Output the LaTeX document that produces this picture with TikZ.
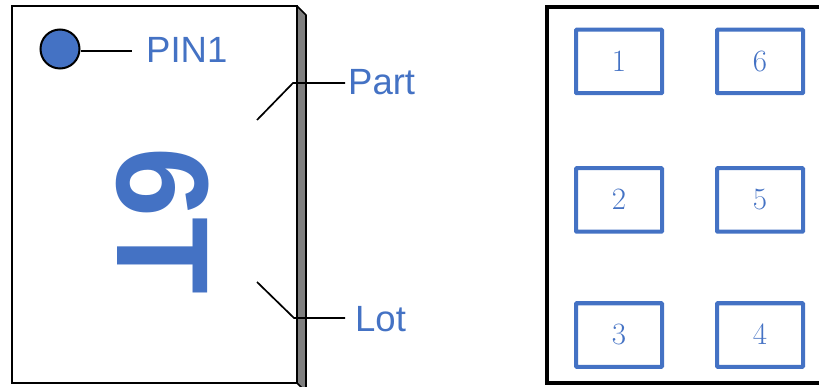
\documentclass[tikz,border=0pt]{standalone}
\usepackage{fontspec}
\setmainfont{Liberation Sans}
\newfontfamily\digitfont{Latin Modern Roman}
\definecolor{pinblue}{HTML}{4472C4}
\definecolor{sidegray}{HTML}{7F7F7F}
\tikzset{
  chipface/.style={draw=black,line width=2pt,fill=white},
  chipside/.style={draw=black,line width=1.6pt,fill=sidegray,line join=round},
  leader/.style={draw=black,line width=1.7pt},
  callout/.style={text=pinblue,font=\fontsize{36.5}{36.5}\selectfont,inner sep=0pt,anchor=base west},
  padbox/.style={draw=pinblue,line width=4pt,fill=white,rounded corners=0.8pt,minimum width=86pt,minimum height=63.5pt,inner sep=0pt,text=pinblue,font=\digitfont\fontsize{31}{31}\selectfont},
}
\begin{document}
\begin{tikzpicture}[x=1pt,y=-1pt]
\useasboundingbox (0,0) rectangle (819,387);
% chip
\path[chipside] (297,6) -- (306,15) -- (306,392) -- (297,383) -- cycle;
\path[chipface] (12,6) rectangle (297,383);
\node[circle,draw=black,line width=2pt,fill=pinblue,minimum size=39pt,inner sep=0pt] (pin) at (60,49) {};
\coordinate (pinend) at (132,51);
\path[leader] (pin.east |- pinend) -- (pinend);
\node[callout] (pinlabel) at (146,63) {PIN1};
\node[callout] (partlabel) at (348,95) {Part};
\node[callout] (lotlabel) at (355,331) {Lot};
\node[text=pinblue,font=\bfseries\fontsize{131}{131}\selectfont,rotate=-90,xscale=0.96,inner sep=0pt] (mark) at (162.5,221) {6T};
\coordinate (parta) at (257,120);
\coordinate (partb) at (293,83);
\coordinate (partc) at (345,83);
\coordinate (lota) at (257,282);
\coordinate (lotb) at (294,318);
\coordinate (lotc) at (345,318);
\path[leader] (parta) -- (partb) -- (partc);
\path[leader] (lota) -- (lotb) -- (lotc);
% footprint
\draw[black,line width=4pt] (547,7) rectangle (830,383);
\node[padbox] (p1) at (619,61.5) {\raisebox{1pt}{1}};
\node[padbox] (p6) at (760,61.5) {\raisebox{1pt}{6}};
\node[padbox] (p2) at (619,200) {\raisebox{1pt}{2}};
\node[padbox] (p5) at (760,200) {\raisebox{1pt}{5}};
\node[padbox] (p3) at (619,335) {\raisebox{1pt}{3}};
\node[padbox] (p4) at (760,335) {\raisebox{1pt}{4}};
\end{tikzpicture}
\end{document}
